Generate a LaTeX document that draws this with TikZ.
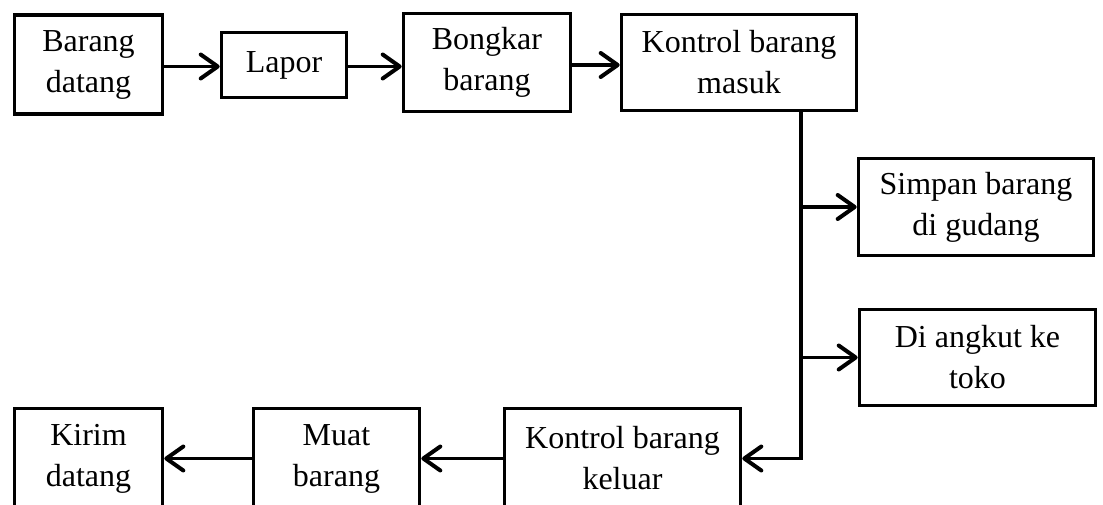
\documentclass[tikz,border=0pt]{standalone}
\usepackage{fontspec}
\setmainfont{Liberation Serif}
\usetikzlibrary{arrows.meta}

\begin{document}
\begin{tikzpicture}[x=1pt,y=-1pt,
  box/.style={draw=black, line width=3.6pt, fill=white, inner sep=0pt,
    align=center, font={\fontsize{32}{41}\selectfont}},
  flow/.style={line width=3.6pt, -{Straight Barb[length=17pt,width=24pt,line width=4pt,round]}},
  trunk/.style={line width=3.6pt}]
  \useasboundingbox (0,0) rectangle (1103,505);

  % top row
  \node[box, minimum width=148pt, minimum height=99pt] (bd) at (88.5,64.5) {Barang\\datang};
  \node[box, minimum width=125pt, minimum height=65pt] (lp) at (284,65) {Lapor};
  \node[box, minimum width=167pt, minimum height=98pt] (bb) at (487,62.5) {Bongkar\\barang};
  \node[box, minimum width=235pt, minimum height=96pt] (km) at (739,62.5) {Kontrol barang\\masuk};

  % right column
  \node[box, minimum width=235pt, minimum height=97pt] (sg) at (976,207) {Simpan barang\\di gudang};
  \node[box, minimum width=236pt, minimum height=96pt] (at) at (977.5,357.5) {Di angkut ke\\toko};

  % bottom row
  \node[box, minimum width=236pt, minimum height=100pt] (kk) at (622.5,458.5) {Kontrol barang\\keluar};
  \node[box, minimum width=166pt, minimum height=100pt] (mb) at (336.5,458.5) {Muat\\barang};
  \node[box, minimum width=148pt, minimum height=100pt] (kd) at (88.5,458.5) {Kirim\\datang};

  % top row flow
  \coordinate (r1) at (0,66.5);
  \coordinate (r2) at (0,65);
  \draw[flow] (r1 -| bd.east) -- (r1 -| lp.west);
  \draw[flow] (r1 -| lp.east) -- (r1 -| bb.west);
  \draw[flow] (r2 -| bb.east) -- (r2 -| km.west);

  % distribution trunk below Kontrol barang masuk
  \coordinate (jt) at (801,112);
  \coordinate (jb) at (801,458.5);
  \draw[trunk] (jt) -- ([yshift=1.8pt]jb);
  \draw[flow] (jt |- sg.west) -- (sg.west);
  \draw[flow] (jt |- at.west) -- (at.west);
  \draw[flow] ([xshift=1.8pt]jb) -- (kk.east);

  % bottom row flow
  \draw[flow] (kk.west) -- (mb.east);
  \draw[flow] (mb.west) -- (kd.east);
\end{tikzpicture}
\end{document}
